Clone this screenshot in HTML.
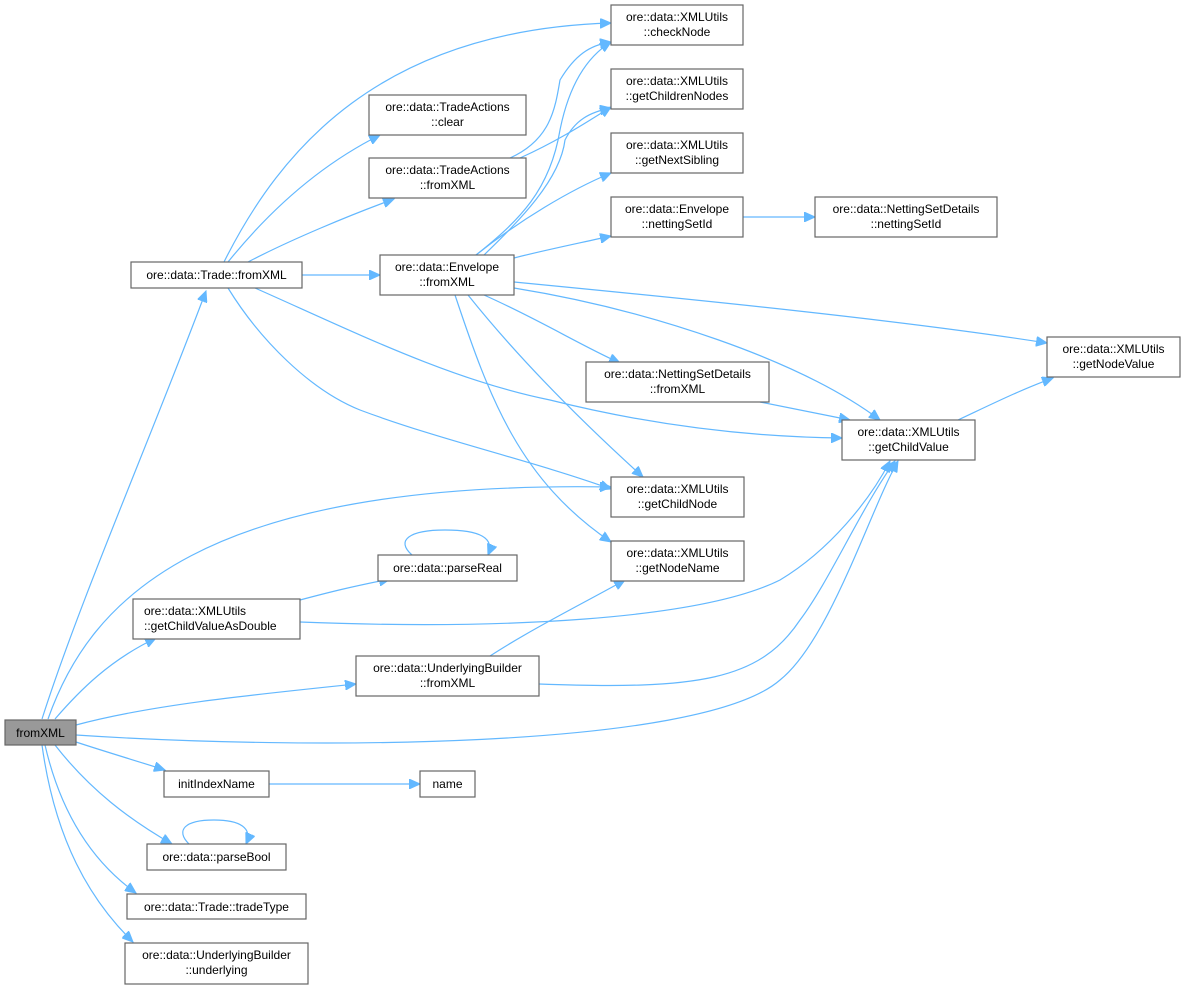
<!DOCTYPE html>
<html><head><meta charset="utf-8"><style>
html,body{margin:0;padding:0;background:#fff;}
svg{display:block;}
text{font-family:"Liberation Sans",Arial,sans-serif;font-size:12px;fill:#000;}
.n{fill:#fff;stroke:#666;stroke-width:1.2;}
.e{fill:none;stroke:#63b8ff;stroke-width:1.2;}
</style></head><body>
<svg width="1185" height="989" viewBox="0 0 1185 989" xmlns="http://www.w3.org/2000/svg">
<defs>
<marker id="a" markerUnits="userSpaceOnUse" markerWidth="12" markerHeight="10" refX="11" refY="5" orient="auto">
<path d="M0,0 L11,5 L0,10 z" fill="#63b8ff" stroke="#63b8ff"/>
</marker>
</defs>

<!-- edges -->
<g class="e" marker-end="url(#a)">
<!-- fromXML main -->
<path d="M42,719 C80,600 150,440 206,291"/>
<path d="M48,719 C90,600 200,480 611,487"/>
<path d="M55,719 C80,690 110,660 156,638"/>
<path d="M76,725 C150,705 250,695 356,684"/>
<path d="M76,735 C300,750 700,750 780,680 C830,640 870,510 898,461"/>
<path d="M76,742 C100,750 140,762 165,770"/>
<path d="M55,745 C90,790 130,820 172,844"/>
<path d="M45,745 C60,810 90,860 136,893"/>
<path d="M42,745 C55,840 90,900 133,942"/>
<!-- Trade::fromXML -->
<path d="M224,262 C280,150 380,30 611,23"/>
<path d="M228,262 C270,210 320,165 380,135"/>
<path d="M248,262 C290,240 350,215 394,199"/>
<path d="M302,275 L380,275"/>
<path d="M255,288 C350,330 450,380 550,400 C650,425 750,437 842,438"/>
<path d="M228,288 C260,340 310,390 360,410 C440,440 530,460 611,489"/>
<!-- TradeActions::fromXML -->
<path d="M510,158 C550,140 555,110 560,80 C575,55 590,45 611,42"/>
<path d="M520,158 C560,140 590,120 611,107"/>
<!-- Envelope::fromXML -->
<path d="M476,255 C520,220 550,190 560,130 C570,80 590,55 611,42"/>
<path d="M484,255 C520,220 560,180 565,140 C575,120 590,112 611,108"/>
<path d="M476,255 C520,220 570,190 611,173"/>
<path d="M514,258 C545,250 580,243 611,236"/>
<path d="M514,282 C700,300 900,320 1047,343"/>
<path d="M514,288 C650,310 800,360 880,420"/>
<path d="M484,295 C540,320 580,345 620,363"/>
<path d="M468,295 C520,360 580,420 643,477"/>
<path d="M455,295 C490,400 520,480 611,542"/>
<!-- others -->
<path d="M743,217 L815,217"/>
<path d="M760,402 C790,408 820,414 850,420"/>
<path d="M958,420 C990,405 1020,390 1053,378"/>
<path d="M300,600 C330,592 350,587 390,579"/>
<path d="M300,622 C500,630 700,620 780,580 C830,550 870,500 890,461"/>
<path d="M490,656 C530,630 580,605 625,580"/>
<path d="M539,684 C700,690 760,680 800,620 C830,580 860,510 895,461"/>
<path d="M269,784 L420,784"/>
<path d="M412,555 C395,540 410,530 445,530 C480,530 495,538 488,555"/>
<path d="M189,844 C175,830 185,820 214,820 C240,820 253,828 246,844"/>
</g>

<!-- nodes -->
<rect class="n" x="5" y="720" width="71" height="25" style="fill:#999"/>
<text x="40.5" y="737" text-anchor="middle">fromXML</text>

<rect class="n" x="131" y="262" width="171" height="26"/>
<text x="216.5" y="279" text-anchor="middle">ore::data::Trade::fromXML</text>

<rect class="n" x="611" y="5" width="132" height="40"/>
<text x="677" y="21" text-anchor="middle">ore::data::XMLUtils</text>
<text x="677" y="36" text-anchor="middle">::checkNode</text>

<rect class="n" x="369" y="95" width="157" height="40"/>
<text x="447.5" y="111" text-anchor="middle">ore::data::TradeActions</text>
<text x="447.5" y="126" text-anchor="middle">::clear</text>

<rect class="n" x="369" y="158" width="157" height="40"/>
<text x="447.5" y="174" text-anchor="middle">ore::data::TradeActions</text>
<text x="447.5" y="189" text-anchor="middle">::fromXML</text>

<rect class="n" x="611" y="69" width="132" height="40"/>
<text x="677" y="85" text-anchor="middle">ore::data::XMLUtils</text>
<text x="677" y="100" text-anchor="middle">::getChildrenNodes</text>

<rect class="n" x="611" y="133" width="132" height="40"/>
<text x="677" y="149" text-anchor="middle">ore::data::XMLUtils</text>
<text x="677" y="164" text-anchor="middle">::getNextSibling</text>

<rect class="n" x="611" y="197" width="132" height="40"/>
<text x="677" y="213" text-anchor="middle">ore::data::Envelope</text>
<text x="677" y="228" text-anchor="middle">::nettingSetId</text>

<rect class="n" x="815" y="197" width="182" height="40"/>
<text x="906" y="213" text-anchor="middle">ore::data::NettingSetDetails</text>
<text x="906" y="228" text-anchor="middle">::nettingSetId</text>

<rect class="n" x="380" y="255" width="134" height="40"/>
<text x="447" y="271" text-anchor="middle">ore::data::Envelope</text>
<text x="447" y="286" text-anchor="middle">::fromXML</text>

<rect class="n" x="1047" y="337" width="133" height="40"/>
<text x="1113.5" y="353" text-anchor="middle">ore::data::XMLUtils</text>
<text x="1113.5" y="368" text-anchor="middle">::getNodeValue</text>

<rect class="n" x="586" y="362" width="183" height="40"/>
<text x="677.5" y="378" text-anchor="middle">ore::data::NettingSetDetails</text>
<text x="677.5" y="393" text-anchor="middle">::fromXML</text>

<rect class="n" x="842" y="420" width="133" height="40"/>
<text x="908.5" y="436" text-anchor="middle">ore::data::XMLUtils</text>
<text x="908.5" y="451" text-anchor="middle">::getChildValue</text>

<rect class="n" x="611" y="477" width="133" height="40"/>
<text x="677.5" y="493" text-anchor="middle">ore::data::XMLUtils</text>
<text x="677.5" y="508" text-anchor="middle">::getChildNode</text>

<rect class="n" x="611" y="541" width="133" height="40"/>
<text x="677.5" y="557" text-anchor="middle">ore::data::XMLUtils</text>
<text x="677.5" y="572" text-anchor="middle">::getNodeName</text>

<rect class="n" x="378" y="555" width="139" height="26"/>
<text x="447.5" y="572" text-anchor="middle">ore::data::parseReal</text>

<rect class="n" x="133" y="599" width="167" height="40"/>
<text x="144" y="615">ore::data::XMLUtils</text>
<text x="144" y="630">::getChildValueAsDouble</text>

<rect class="n" x="356" y="656" width="183" height="40"/>
<text x="447.5" y="672" text-anchor="middle">ore::data::UnderlyingBuilder</text>
<text x="447.5" y="687" text-anchor="middle">::fromXML</text>

<rect class="n" x="164" y="771" width="105" height="26"/>
<text x="216.5" y="788" text-anchor="middle">initIndexName</text>

<rect class="n" x="420" y="771" width="55" height="26"/>
<text x="447.5" y="788" text-anchor="middle">name</text>

<rect class="n" x="147" y="844" width="139" height="26"/>
<text x="216.5" y="861" text-anchor="middle">ore::data::parseBool</text>

<rect class="n" x="127" y="894" width="179" height="25"/>
<text x="216.5" y="911" text-anchor="middle">ore::data::Trade::tradeType</text>

<rect class="n" x="125" y="943" width="183" height="41"/>
<text x="216.5" y="959" text-anchor="middle">ore::data::UnderlyingBuilder</text>
<text x="216.5" y="974" text-anchor="middle">::underlying</text>
</svg>
</body></html>
